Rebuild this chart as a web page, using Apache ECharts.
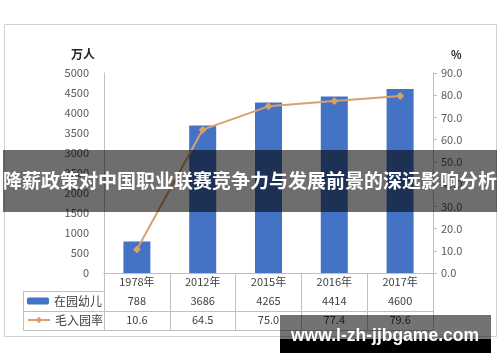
<!DOCTYPE html>
<html>
<head>
<meta charset="utf-8">
<script src="https://cdn.jsdelivr.net/npm/echarts@6/dist/echarts.min.js"></script>
<style>
html,body{margin:0;padding:0;background:#fff;}
#c{width:500px;height:362px;}
</style>
</head>
<body>
<div id="c"></div>
<script>
var categories = ['1978年', '2012年', '2015年', '2016年', '2017年'];
var enrolled = [788, 3686, 4265, 4414, 4600];
var grossRate = [10.6, 64.5, 75.0, 77.4, 79.6];
var seriesNames = ['在园幼儿', '毛入园率'];
var leftTicks = {min: 0, max: 5000, interval: 500};
var rightTicks = {min: 0, max: 90, interval: 10};
var bannerText = '降薪政策对中国职业联赛竞争力与发展前景的深远影响分析';
var watermarkText = 'www.l-zh-jjbgame.com';

var FONT = '"Noto Sans CJK SC", "Noto Sans", sans-serif';
var GRID_LINE = '#bfbfbf';
var TXT = '#404040';
var BAR = '#4472C4';
var LINE = '#D9A06C';

var chart = echarts.init(document.getElementById('c'), null, {renderer: 'canvas'});

function tableAxis(data, offset, showLabel, margin) {
  return {
    type: 'category', data: data, position: 'bottom', gridIndex: 0, offset: offset,
    axisLine: {show: true, lineStyle: {color: GRID_LINE, width: 1}},
    axisTick: {show: false},
    axisLabel: {show: showLabel, interval: 0, margin: margin, color: TXT, fontSize: 11, fontFamily: FONT},
    splitLine: {show: false}
  };
}

var option = {
  animation: false,
  backgroundColor: '#fff',
  textStyle: {fontFamily: FONT},
  grid: {left: 104, right: 67, top: 73, height: 200, containLabel: false},
  legend: [
    {data: [seriesNames[0]], left: 27, top: 295, itemWidth: 22, itemHeight: 7, padding: 0,
     textStyle: {fontSize: 12, color: TXT, fontFamily: FONT}},
    {data: [seriesNames[1]], left: 27, top: 314, itemWidth: 22, itemHeight: 8, padding: 0,
     textStyle: {fontSize: 12, color: TXT, fontFamily: FONT}}
  ],
  xAxis: [
    {
      type: 'category', data: categories, position: 'bottom', offset: 0,
      axisLine: {show: true, lineStyle: {color: GRID_LINE, width: 1}},
      axisTick: {show: true, length: 57, inside: false, alignWithLabel: false, lineStyle: {color: GRID_LINE}},
      axisLabel: {interval: 0, margin: 3, color: TXT, fontSize: 11, fontFamily: FONT},
      splitLine: {show: false}
    },
    tableAxis(enrolled.map(function (v) { return String(v); }), 18, true, 4),
    tableAxis(grossRate.map(function (v) { return v.toFixed(1); }), 38, true, 3),
    tableAxis(categories, 57, false, 0)
  ],
  yAxis: [
    {
      type: 'value', min: leftTicks.min, max: leftTicks.max, interval: leftTicks.interval,
      name: '万人', nameLocation: 'end', nameGap: 13,
      nameTextStyle: {align: 'right', padding: [0, 9, 0, 0], fontSize: 12, fontWeight: 'bold', color: '#222', fontFamily: FONT},
      axisLine: {show: true, lineStyle: {color: GRID_LINE}},
      axisTick: {show: false},
      axisLabel: {margin: 15, color: '#595959', fontSize: 11, fontFamily: FONT,
        formatter: function (v) { return String(v); }},
      splitLine: {show: false}
    },
    {
      type: 'value', min: rightTicks.min, max: rightTicks.max, interval: rightTicks.interval,
      position: 'right',
      name: '%', nameLocation: 'end', nameGap: 13,
      nameTextStyle: {align: 'left', padding: [0, 0, 0, 18], fontSize: 11, fontWeight: 'bold', color: '#222', fontFamily: FONT},
      axisLine: {show: true, lineStyle: {color: GRID_LINE}},
      axisTick: {show: true, length: 4, lineStyle: {color: GRID_LINE}},
      axisLabel: {margin: 8, color: '#595959', fontSize: 11, fontFamily: FONT,
        formatter: function (v) { return v.toFixed(1); }},
      splitLine: {show: false}
    }
  ],
  series: [
    {
      name: seriesNames[0], type: 'bar', xAxisIndex: 0, yAxisIndex: 0,
      data: enrolled, barWidth: 27,
      itemStyle: {color: BAR}
    },
    {
      name: seriesNames[1], type: 'line', xAxisIndex: 0, yAxisIndex: 1,
      data: grossRate, symbol: 'diamond', symbolSize: 8,
      lineStyle: {color: LINE, width: 2},
      itemStyle: {color: LINE}
    }
  ],
  graphic: [
    {type: 'rect', z: 0, silent: true, shape: {x: 4.5, y: 24.5, width: 492, height: 312},
     style: {fill: 'none', stroke: '#d0d0d0', lineWidth: 1}},
    {type: 'line', z: 5, silent: true, shape: {x1: 23.5, y1: 291.5, x2: 104, y2: 291.5}, style: {stroke: GRID_LINE, lineWidth: 1}},
    {type: 'line', z: 5, silent: true, shape: {x1: 23.5, y1: 311.5, x2: 104, y2: 311.5}, style: {stroke: GRID_LINE, lineWidth: 1}},
    {type: 'line', z: 5, silent: true, shape: {x1: 23.5, y1: 330.5, x2: 104, y2: 330.5}, style: {stroke: GRID_LINE, lineWidth: 1}},
    {type: 'line', z: 5, silent: true, shape: {x1: 23.5, y1: 291.5, x2: 23.5, y2: 330.5}, style: {stroke: GRID_LINE, lineWidth: 1}},
    {type: 'rect', z: 100, silent: true, shape: {x: 3, y: 150, width: 494, height: 62},
     style: {fill: 'rgba(0,0,0,0.57)'}},
    {type: 'text', z: 101, silent: true, x: 250, y: 181,
     style: {text: bannerText, fill: '#fff', fontSize: 19, fontWeight: 'bold', fontFamily: FONT,
       align: 'center', verticalAlign: 'middle'}},
    {type: 'rect', z: 100, silent: true, shape: {x: 280, y: 315, width: 211, height: 24},
     style: {fill: 'rgba(0,0,0,0.55)'}},
    {type: 'rect', z: 100, silent: true, shape: {x: 280, y: 339, width: 211, height: 14},
     style: {fill: '#000'}},
    {type: 'text', z: 101, silent: true, x: 385, y: 336,
     style: {text: watermarkText, fill: '#fff', fontSize: 17.5, fontWeight: 'bold', fontFamily: '"Liberation Sans", Arial, sans-serif',
       align: 'center', verticalAlign: 'middle'}}
  ]
};
chart.setOption(option);
</script>
</body>
</html>
